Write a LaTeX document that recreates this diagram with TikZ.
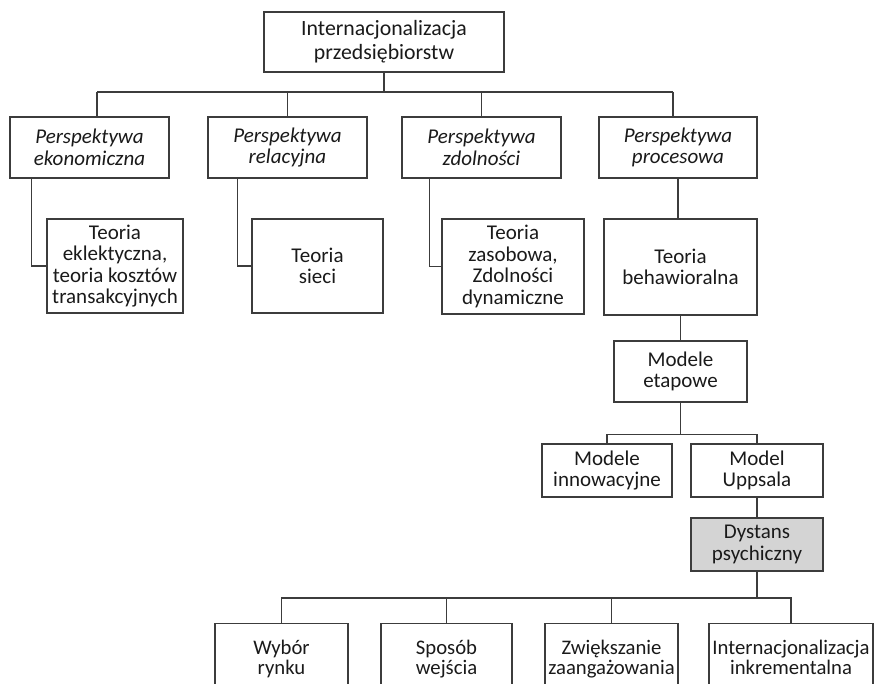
\documentclass[tikz,border=0pt]{standalone}
\usepackage{fontspec}
\setmainfont{Carlito}
\definecolor{linegray}{HTML}{3C3C3C}
\definecolor{textblack}{HTML}{1A1A1A}
\definecolor{shade}{HTML}{D4D4D4}
\begin{document}
\begin{tikzpicture}[x=1pt,y=-1pt,
  box/.style={draw=linegray, line width=1.1pt, fill=white, inner sep=0pt,
    align=center, text=textblack, font=\fontsize{21}{21.5}\selectfont},
  persp/.style={box, minimum width=159pt, minimum height=61pt,
    font=\fontsize{21}{21.5}\selectfont\itshape},
  leaf/.style={box, anchor=north, inner xsep=0pt, inner ysep=17pt,
    font=\fontsize{20.7}{20}\selectfont},
  link/.style={draw=linegray, line width=1.1pt}]
\useasboundingbox (0,0) rectangle (875,684);
\clip (0,0) rectangle (875,684);

% root
\node[box, minimum width=240pt, minimum height=60pt,
  font=\fontsize{21.8}{24}\selectfont] (root) at (384,42)
  {Internacjonalizacja\\przedsiębiorstw};

% perspectives
\node[persp] (pe) at (89.5,147.5) {Perspektywa\\ekonomiczna};
\node[persp] (pr) at (287.5,147.5) {Perspektywa\\relacyjna};
\node[persp] (pz) at (481.5,147.5) {Perspektywa\\zdolności};
\node[persp, minimum width=158pt] (pp) at (678,147.5) {Perspektywa\\procesowa};

% theories
\node[box, minimum width=136pt, minimum height=94pt] (te) at (115,266)
  {Teoria\\eklektyczna,\\teoria kosztów\\transakcyjnych};
\node[box, minimum width=131pt, minimum height=94pt] (ts) at (317.5,266)
  {Teoria\\sieci};
\node[box, minimum width=142pt, minimum height=95pt] (tz) at (513,266.5)
  {Teoria\\zasobowa,\\Zdolności\\dynamiczne};
\node[box, minimum width=153pt, minimum height=96pt] (tb) at (680.5,267)
  {Teoria\\behawioralna};

% stage models
\node[box, minimum width=133pt, minimum height=61pt] (me) at (680.5,371.5)
  {Modele\\etapowe};
\node[box, minimum width=130pt, minimum height=53pt] (mi) at (607,470.5)
  {Modele\\innowacyjne};
\node[box, minimum width=132pt, minimum height=53pt] (mu) at (757,470.5)
  {Model\\Uppsala};
\node[box, fill=shade, minimum width=132pt, minimum height=53pt] (dp) at (757,544.5)
  {Dystans\\psychiczny};

% leaves (run past the lower edge)
\node[leaf, minimum width=133pt] (wr) at (281.5,623) {Wybór\\rynku};
\node[leaf, minimum width=131pt] (sw) at (446.5,623) {Sposób\\wejścia};
\node[leaf, minimum width=133pt] (zz) at (611.5,623) {Zwiększanie\\zaangażowania};
\node[leaf, minimum width=164pt] (ii) at (791,623) {Internacjonalizacja\\inkrementalna};

% top bus
\coordinate (busL) at (97,92);
\coordinate (busR) at (673,92);
\draw[link] (root.south) -- (root.south |- busL);
\draw[link] (busL) -- (busR);
\draw[link] (busL) -- (busL |- pe.north);
\draw[link] (pr.north |- busL) -- (pr.north);
\draw[link] (pz.north |- busL) -- (pz.north);
\draw[link] (busR) -- (busR |- pp.north);

% perspective to theory elbows
\draw[link] ([xshift=22pt]pe.south west) |- (te.west);
\draw[link] ([xshift=30pt]pr.south west) |- (ts.west);
\draw[link] ([xshift=28pt]pz.south west) |- (tz.west);
\draw[link] (pp.south) -- (pp.south |- tb.north);

% process branch
\draw[link] (tb.south) -- (me.north);
\coordinate (mbus) at ([yshift=9pt]mi.north);
\draw[link] (me.south) -- (me.south |- mbus);
\draw[link] (mi.north) -- (mbus) -| (mu.north);
\draw[link] (mu.south) -- (dp.north);

% bottom bus
\coordinate (bbus) at ([yshift=25pt]wr.north);
\draw[link] (dp.south) -- (dp.south |- bbus);
\draw[link] (wr.north) -- (bbus) -| (ii.north);
\draw[link] (sw.north) -- (sw.north |- bbus);
\draw[link] (zz.north) -- (zz.north |- bbus);
\end{tikzpicture}
\end{document}
